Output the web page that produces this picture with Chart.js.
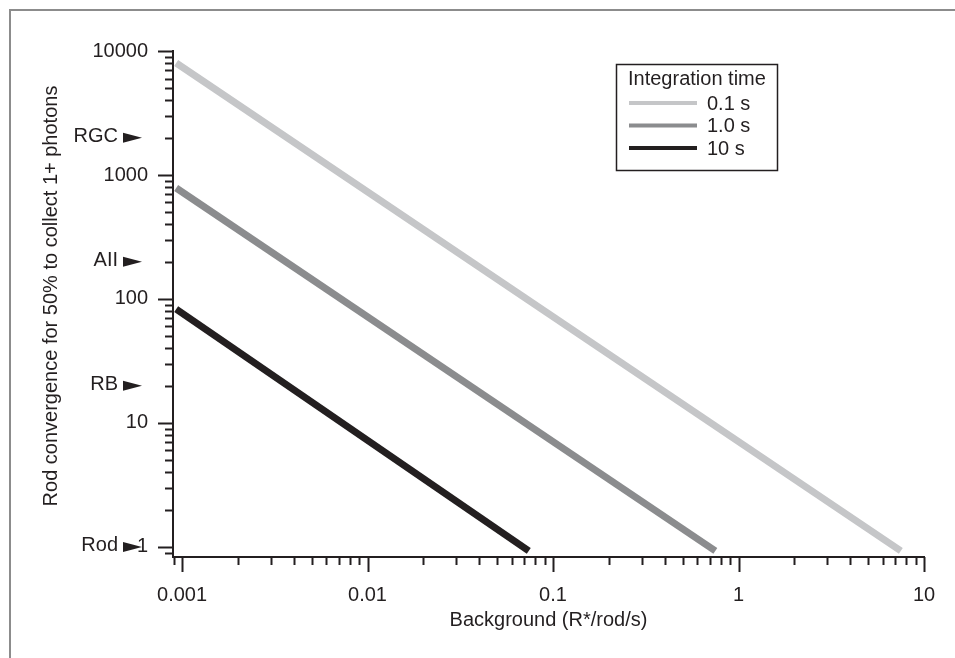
<!DOCTYPE html>
<html>
<head>
<meta charset="utf-8">
<script src="https://cdn.jsdelivr.net/npm/chart.js@4.4.0/dist/chart.umd.min.js"></script>
<style>
  html, body { margin: 0; padding: 0; background: #fff; }
  #wrap { position: relative; width: 955px; height: 658px; }
  #frame { position: absolute; left: 9px; top: 9px; right: 0; bottom: 0;
           border-top: 2px solid #8c8c8c; border-left: 2px solid #8c8c8c; }
  canvas { position: absolute; left: 0; top: 0; }
</style>
</head>
<body>
<div id="wrap">
  <div id="frame"></div>
  <canvas id="chart" width="955" height="658"></canvas>
</div>
<script>
// --- data ---
const seriesLabels = ['0.1 s', '1.0 s', '10 s'];
const seriesColors = ['#c5c6c8', '#8b8c8e', '#231f20'];
// each line goes from (bgStart, convStart) to (bgEnd, convEnd)
const bgStart = [0.00093, 0.00093, 0.00093];
const convStart = [8000, 785, 83];
const bgEnd = [7.5, 0.75, 0.074];
const convEnd = [0.93, 0.93, 0.93];
const xTicks = [0.001, 0.01, 0.1, 1, 10];
const yTicks = [1, 10, 100, 1000, 10000];
const cellNames = ['Rod', 'RB', 'AII', 'RGC'];
const cellValues = [1, 20, 200, 2000];
const yTitle = 'Rod convergence for 50% to collect 1+ photons';

const ink = '#231f20';
const fontStr = '20px "Liberation Sans", Arial, sans-serif';
Chart.defaults.font.family = '"Liberation Sans", Arial, sans-serif';
Chart.defaults.font.size = 20;
Chart.defaults.color = ink;

// minor + major tick marks on both log axes
const tickMarks = {
  id: 'tickMarks',
  afterDraw(chart) {
    const ctx = chart.ctx;
    const xs = chart.scales.x, ys = chart.scales.y;
    ctx.save();
    ctx.strokeStyle = ink;
    ctx.lineWidth = 2;
    [xs, ys].forEach(s => {
      const lo = Math.floor(Math.log10(s.min)), hi = Math.ceil(Math.log10(s.max));
      for (let d = lo; d <= hi; d++) {
        for (let k = 1; k <= 9; k++) {
          const v = k * Math.pow(10, d);
          if (v < s.min * 0.999 || v > s.max * 1.001) continue;
          const len = k === 1 ? 15 : 8;
          const p = Math.round(s.getPixelForValue(v)) + 0.5;
          ctx.beginPath();
          if (s === xs) { ctx.moveTo(p, s.top); ctx.lineTo(p, s.top + len); }
          else { ctx.moveTo(s.right, p); ctx.lineTo(s.right - len, p); }
          ctx.stroke();
        }
      }
    });
    ctx.restore();
  }
};

// cell type markers + rotated y title
const cellMarkers = {
  id: 'cellMarkers',
  afterDraw(chart) {
    const ctx = chart.ctx;
    const ys = chart.scales.y;
    ctx.save();
    ctx.fillStyle = ink;
    ctx.font = fontStr;
    ctx.textAlign = 'right';
    ctx.textBaseline = 'middle';
    cellNames.forEach((name, i) => {
      const y = ys.getPixelForValue(cellValues[i]);
      ctx.fillText(name, 118, y - 1);
      ctx.beginPath();
      ctx.moveTo(123, y - 5);
      ctx.lineTo(142, y);
      ctx.lineTo(123, y + 5);
      ctx.closePath();
      ctx.fill();
    });
    ctx.translate(51, 296);
    ctx.rotate(-Math.PI / 2);
    ctx.textAlign = 'center';
    ctx.fillText(yTitle, 0, 0);
    ctx.restore();
  }
};

// boxed legend with title
const boxLegend = {
  id: 'boxLegend',
  afterDraw(chart) {
    const ctx = chart.ctx;
    ctx.save();
    ctx.strokeStyle = ink;
    ctx.lineWidth = 1.5;
    ctx.strokeRect(616.5, 64.5, 161, 106);
    ctx.fillStyle = ink;
    ctx.font = fontStr;
    ctx.textBaseline = 'middle';
    ctx.fillText('Integration time', 628, 79);
    chart.data.datasets.forEach((ds, i) => {
      const y = 103 + i * 22.5;
      ctx.strokeStyle = ds.borderColor;
      ctx.lineWidth = 4;
      ctx.beginPath();
      ctx.moveTo(629, y);
      ctx.lineTo(697, y);
      ctx.stroke();
      ctx.fillText(ds.label, 707, y + 1);
    });
    ctx.restore();
  }
};

const datasets = seriesLabels.map((lab, i) => ({
  label: lab,
  data: [{ x: bgStart[i], y: convStart[i] }, { x: bgEnd[i], y: convEnd[i] }],
  borderColor: seriesColors[i],
  backgroundColor: seriesColors[i],
  borderWidth: 7,
  borderCapStyle: 'butt',
  pointRadius: 0,
  fill: false
}));

new Chart(document.getElementById('chart'), {
  type: 'line',
  data: { datasets },
  options: {
    responsive: false,
    animation: false,
    devicePixelRatio: 1,
    layout: { padding: { left: 35, top: 51, right: 31, bottom: 18 } },
    plugins: { legend: { display: false }, tooltip: { enabled: false } },
    scales: {
      x: {
        type: 'logarithmic',
        position: 'bottom',
        min: 0.000894,
        max: 10,
        border: { color: ink, width: 2 },
        grid: { display: false, drawTicks: false },
        ticks: { padding: 26, autoSkip: false, maxRotation: 0, callback: v => String(v) },
        afterBuildTicks: s => { s.ticks = xTicks.map(v => ({ value: v })); },
        afterFit: s => { s.height = 83; s.paddingLeft = 0; s.paddingRight = 0; },
        title: { display: true, text: 'Background (R*/rod/s)', padding: { top: 0, bottom: 8 } }
      },
      y: {
        type: 'logarithmic',
        min: 0.83,
        max: 10000,
        border: { color: ink, width: 2 },
        grid: { display: false, drawTicks: false },
        ticks: { padding: 25, autoSkip: false, callback: v => String(v) },
        afterBuildTicks: s => { s.ticks = yTicks.map(v => ({ value: v })); },
        afterFit: s => { s.width = 138; s.paddingTop = 0; s.paddingBottom = 0; },
        title: { display: false }
      }
    }
  },
  plugins: [tickMarks, cellMarkers, boxLegend]
});
</script>
</body>
</html>
